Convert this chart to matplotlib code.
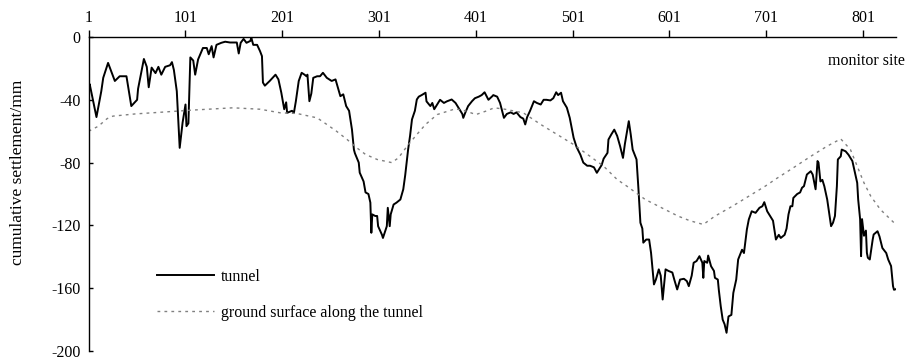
"""
Plot cumulative settlement of the tunnel and the ground surface along it.
"""

import matplotlib

matplotlib.use("Agg")
import matplotlib.pyplot as plt

tunnel_site = [
    1, 2, 9, 14, 16, 21, 28, 33, 40, 45, 51, 52, 58, 61, 63, 66, 70, 73, 76, 80,
    85, 87, 89, 92, 95, 98, 101, 102, 104, 106, 109, 111, 114, 119, 123, 125, 128,
    130, 133, 138, 142, 147, 154, 156, 158, 161, 164, 168, 169, 171, 175, 178,
    180, 181, 183, 188, 194, 197, 200, 203, 205, 206, 211, 213, 215, 218, 221,
    224, 226, 227, 229, 231, 233, 237, 240, 243, 247, 252, 256, 258, 261, 264,
    267, 270, 273, 275, 276, 280, 281, 285, 287, 290, 292, 293, 294, 297, 299,
    300, 304, 305, 309, 310, 312, 313, 316, 319, 323, 326, 328, 331, 333, 335,
    338, 340, 342, 345, 349, 350, 354, 356, 358, 361, 364, 368, 371, 376, 380,
    384, 387, 388, 390, 393, 397, 400, 404, 407, 410, 414, 418, 419, 423, 426,
    430, 433, 437, 440, 443, 447, 450, 452, 454, 457, 461, 464, 468, 471, 474,
    478, 481, 484, 486, 489, 491, 495, 498, 502, 505, 509, 512, 516, 519, 523,
    526, 528, 531, 533, 537, 538, 541, 544, 547, 550, 553, 555, 559, 561, 563,
    566, 567, 569, 571, 573, 574, 577, 580, 582, 585, 587, 590, 592, 594, 597,
    600, 604, 606, 609, 612, 616, 619, 621, 624, 626, 629, 632, 635, 636, 637,
    640, 641, 644, 647, 648, 651, 652, 654, 656, 658, 660, 662, 665, 667, 670,
    672, 676, 678, 681, 683, 686, 690, 694, 697, 699, 702, 705, 708, 709, 711,
    714, 716, 720, 722, 724, 726, 728, 729, 733, 736, 738, 740, 743, 747, 749,
    752, 754, 755, 757, 759, 761, 764, 766, 768, 770, 772, 774, 775, 778, 779,
    783, 786, 790, 792, 795, 796, 798, 799, 800, 802, 804, 805, 806, 808, 811,
    812, 816, 818, 821, 825, 827, 830, 832, 833, 835,
]
tunnel_mm = [
    -33, -30, -51, -34.5, -26, -16.5, -28, -25, -25, -44, -40, -33, -14, -19, -32,
    -19.5, -23, -19, -24, -19, -18, -16, -21, -34.5, -70.6, -54.5, -43, -56.8,
    -55, -13, -15, -24, -14.3, -7, -7, -11, -5.8, -13, -5, -3.7, -3, -3.5, -3.5,
    -10.5, -3.7, -1.2, -3.7, -2.5, -0.5, -5, -5, -9, -12.2, -29, -31, -28, -24,
    -27, -35.5, -46, -41.6, -48.3, -47, -48.3, -41, -28, -22.8, -24, -25, -24,
    -40.9, -36, -26, -25, -25, -22.8, -26, -28, -27, -31.3, -37.7, -36.5, -44,
    -47, -59, -71.7, -74, -80, -86.4, -92, -99, -100, -105.5, -124.7, -113, -114,
    -114, -120.5, -126, -128, -120.5, -108.8, -120.5, -113, -106.7, -105.5,
    -103.5, -97, -88, -71.7, -63, -52.5, -47, -39.8, -38, -37, -35.5, -41, -44,
    -42, -46, -43, -40, -42, -41, -39.8, -42, -46, -49, -51.5, -48.3, -44, -40.9,
    -39, -38, -37, -35.2, -40, -37.7, -37, -38, -42, -51.5, -49, -48, -49, -48,
    -51, -52, -55.7, -51, -47, -40.9, -42, -43, -40, -40, -40.4, -39, -35.2, -37,
    -35.5, -40.9, -45, -51.5, -64.2, -70, -75, -80, -82, -82, -83, -86.5, -84.5,
    -81.5, -77.5, -73.8, -65.3, -62, -59, -63, -69.5, -77, -68, -53.6, -62,
    -71.7, -76.5, -78, -97, -118.3, -122, -131, -129, -129, -137.5, -157.6,
    -154.5, -148, -152, -167.2, -148, -149, -150, -154.5, -160.8, -154.5, -154,
    -155.5, -158.7, -152, -143.8, -142.7, -139.6, -143.8, -153.4, -142.7, -143.8,
    -139.2, -146, -149, -153.4, -154.5, -161, -171.5, -180, -183, -188.4, -178,
    -177, -163, -154.5, -141.7, -135.5, -137.6, -122.6, -116.2, -111, -112,
    -108.8, -107.8, -105.2, -111, -114, -117, -121, -129, -126, -128, -126, -122,
    -113, -107.8, -107.8, -102.5, -100, -99, -96, -95, -87.6, -85.5, -87.6, -97,
    -79, -80, -92, -91, -95, -103.5, -112, -120.5, -118.3, -114, -95, -78, -76,
    -71.7, -72.8, -75, -79, -84.5, -92.9, -103.5, -116, -139.6, -116, -126.6,
    -123.3, -137.5, -140.6, -141.7, -129, -125.8, -123.7, -127, -134.4, -137.6,
    -141.7, -145.9, -158.7, -161, -160.6,
]

# Ground surface settlement along the tunnel
ground_site = [
    1, 11, 20, 26, 49, 76, 107, 150, 178, 199, 216, 237, 247, 257, 268, 278, 287,
    299, 314, 321, 330, 340, 349, 361, 380, 390, 401, 411, 420, 431, 450, 468,
    485, 502, 519, 533, 547, 557, 576, 593, 610, 622, 636, 648, 666, 683, 700,
    712, 729, 747, 764, 778, 788, 795, 802, 809, 819, 833,
]
ground_mm = [
    -60, -56.8, -52, -50.4, -49, -47.9, -46.6, -45.1, -46, -48.3, -48.7, -51.5,
    -55.7, -60, -65.3, -70.6, -74.8, -78, -80, -77, -69.5, -62.1, -55.7, -49.4,
    -45.7, -47, -49.4, -47.3, -45.1, -46, -48.3, -55.7, -62.1, -68.5, -76, -82.3,
    -90.8, -95, -103.5, -108.8, -114.1, -117, -119.4, -114.1, -107.8, -101.4,
    -95, -90, -83.3, -76, -69.5, -64.9, -71.7, -82.3, -92.9, -101.4, -109.9,
    -118.3,
]

x_ticks = [1, 101, 201, 301, 401, 501, 601, 701, 801]
y_ticks = [0, -40, -80, -120, -160, -200]

FONT = "Liberation Serif"
FS = 11.5


def plot_settlement(output_path="out.png"):
    plt.rcParams["font.family"] = [FONT, "DejaVu Serif"]

    fig = plt.figure(figsize=(9.08, 3.61), dpi=100)
    ax = fig.add_axes([0.0977, 0.0277, 0.889, 0.8698])

    ax.plot(tunnel_site, tunnel_mm, color="black", linewidth=1.4,
            label="tunnel")
    ax.plot(ground_site, ground_mm, color="#808080", linewidth=1.0,
            linestyle=(0, (2, 3)), label="ground surface along the tunnel")

    ax.set_xlim(1, 835)
    ax.set_ylim(-200, 0)

    # x axis sits on the zero line at the top
    ax.xaxis.tick_top()
    ax.set_xticks(x_ticks)
    ax.set_xticklabels([str(t) for t in x_ticks])
    ax.set_yticks(y_ticks)
    ax.set_yticklabels([str(t) for t in y_ticks])
    ax.tick_params(axis="x", direction="out", length=5, width=1, pad=3,
                   labelsize=FS)
    ax.tick_params(axis="y", direction="in", length=3, width=1, pad=6,
                   labelsize=FS)

    for side in ("bottom", "right"):
        ax.spines[side].set_visible(False)
    for side in ("top", "left"):
        ax.spines[side].set_linewidth(1.0)

    fig.text(905 / 908, 1 - 61 / 361, "monitor site", ha="right", va="center",
             fontsize=FS)
    fig.text(18 / 908, 1 - 172 / 361, "cumulative settlement/mm",
             rotation=90, ha="center", va="center", fontsize=12.5)

    ax.legend(loc="upper left", bbox_to_anchor=(0.084, 0.262), frameon=False,
              fontsize=FS, handlelength=3.6, handletextpad=0.45,
              labelspacing=1.25, borderpad=0, borderaxespad=0)

    fig.savefig(output_path, dpi=100)


def main():
    plot_settlement("out.png")


if __name__ == "__main__":
    main()
